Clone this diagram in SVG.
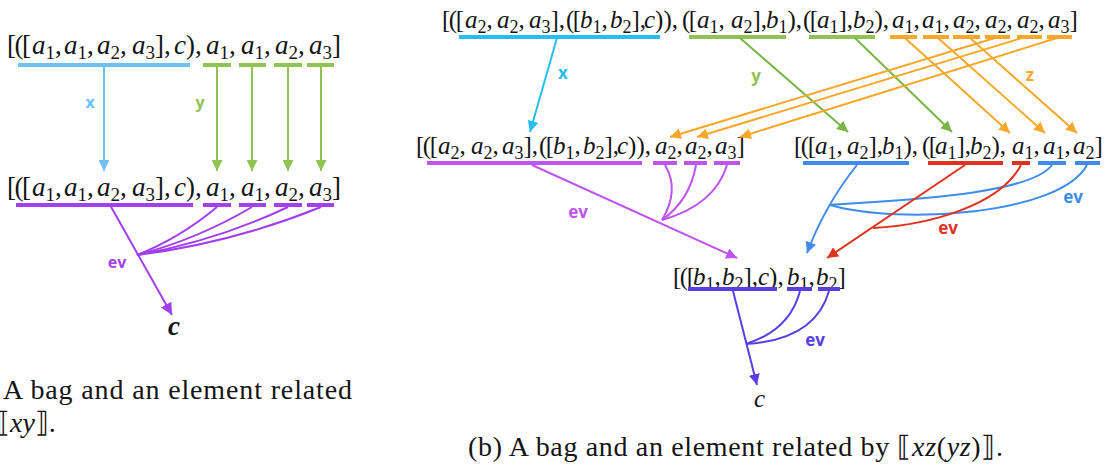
<svg xmlns="http://www.w3.org/2000/svg" width="1108" height="470" viewBox="0 0 1108 470">
<style>
.m{font-family:"Liberation Serif","DejaVu Serif",serif;font-size:27px;fill:#141414}
.m2{font-family:"Liberation Serif","DejaVu Serif",serif;font-size:25px;fill:#141414}
.i{font-style:italic}
.s{font-size:19px;baseline-shift:-5px;font-style:normal}
.s2{font-size:18px;baseline-shift:-5px;font-style:normal}
.br{letter-spacing:-1.5px}
.cap{font-family:"Liberation Serif","DejaVu Serif",serif;font-size:28px;fill:#141414}
.lb{font-family:"Open Sans","Liberation Sans",sans-serif;font-weight:bold;text-anchor:middle}
.u{stroke-width:4;fill:none}
.c{stroke-width:2;fill:none}
</style>
<defs>
<marker id="aLB" viewBox="0 0 10 10" refX="10" refY="5" markerWidth="11" markerHeight="11" markerUnits="userSpaceOnUse" orient="auto"><path d="M0,0 L10,5 L0,10 z" fill="#6EC0F5"/></marker>
<marker id="aG" viewBox="0 0 10 10" refX="10" refY="5" markerWidth="11" markerHeight="11" markerUnits="userSpaceOnUse" orient="auto"><path d="M0,0 L10,5 L0,10 z" fill="#8FC455"/></marker>
<marker id="aG2" viewBox="0 0 10 10" refX="10" refY="5" markerWidth="11" markerHeight="11" markerUnits="userSpaceOnUse" orient="auto"><path d="M0,0 L10,5 L0,10 z" fill="#79B648"/></marker>
<marker id="aP" viewBox="0 0 10 10" refX="10" refY="5" markerWidth="12" markerHeight="12" markerUnits="userSpaceOnUse" orient="auto"><path d="M0,0 L10,5 L0,10 z" fill="#A23FF0"/></marker>
<marker id="aC" viewBox="0 0 10 10" refX="10" refY="5" markerWidth="11" markerHeight="11" markerUnits="userSpaceOnUse" orient="auto"><path d="M0,0 L10,5 L0,10 z" fill="#26BDF0"/></marker>
<marker id="aO" viewBox="0 0 10 10" refX="10" refY="5" markerWidth="11" markerHeight="11" markerUnits="userSpaceOnUse" orient="auto"><path d="M0,0 L10,5 L0,10 z" fill="#F9A72B"/></marker>
<marker id="aPu" viewBox="0 0 10 10" refX="10" refY="5" markerWidth="11" markerHeight="11" markerUnits="userSpaceOnUse" orient="auto"><path d="M0,0 L10,5 L0,10 z" fill="#BE55EE"/></marker>
<marker id="aB" viewBox="0 0 10 10" refX="10" refY="5" markerWidth="11" markerHeight="11" markerUnits="userSpaceOnUse" orient="auto"><path d="M0,0 L10,5 L0,10 z" fill="#3F8CEE"/></marker>
<marker id="aR" viewBox="0 0 10 10" refX="10" refY="5" markerWidth="11" markerHeight="11" markerUnits="userSpaceOnUse" orient="auto"><path d="M0,0 L10,5 L0,10 z" fill="#E2321F"/></marker>
<marker id="aI" viewBox="0 0 10 10" refX="10" refY="5" markerWidth="11" markerHeight="11" markerUnits="userSpaceOnUse" orient="auto"><path d="M0,0 L10,5 L0,10 z" fill="#5B3DE6"/></marker>
</defs>
<rect width="1108" height="470" fill="#ffffff"/>

<!-- LEFT PANEL -->
<g id="left-top">
<text class="m" y="54"><tspan x="7" class="br">[([</tspan><tspan x="32" class="i">a</tspan><tspan class="s">1</tspan>,<tspan x="64" class="i">a</tspan><tspan class="s">1</tspan>,<tspan x="97" class="i">a</tspan><tspan class="s">2</tspan>,<tspan x="132" class="i">a</tspan><tspan class="s">3</tspan>],<tspan x="174" class="i">c</tspan>),<tspan x="206" class="i">a</tspan><tspan class="s">1</tspan>,<tspan x="241" class="i">a</tspan><tspan class="s">1</tspan>,<tspan x="275" class="i">a</tspan><tspan class="s">2</tspan>,<tspan x="309" class="i">a</tspan><tspan class="s">3</tspan>]</text>
<g class="u">
<path d="M18,65 H190" stroke="#6EC0F5"/>
<path d="M203,65 H231 M239,65 H266 M274,65 H302 M307,65 H334" stroke="#8FC455"/>
</g>
</g>

<g id="left-mid">
<text class="m" y="196"><tspan x="7" class="br">[([</tspan><tspan x="32" class="i">a</tspan><tspan class="s">1</tspan>,<tspan x="64" class="i">a</tspan><tspan class="s">1</tspan>,<tspan x="97" class="i">a</tspan><tspan class="s">2</tspan>,<tspan x="132" class="i">a</tspan><tspan class="s">3</tspan>],<tspan x="174" class="i">c</tspan>),<tspan x="206" class="i">a</tspan><tspan class="s">1</tspan>,<tspan x="241" class="i">a</tspan><tspan class="s">1</tspan>,<tspan x="275" class="i">a</tspan><tspan class="s">2</tspan>,<tspan x="309" class="i">a</tspan><tspan class="s">3</tspan>]</text>
<path class="u" d="M16,205 H193 M203,205 H231 M239,205 H266 M274,205 H302 M307,205 H334" stroke="#A23FF0"/>
</g>

<g id="left-c">
<text class="m i" x="168" y="335" font-weight="bold">c</text>
</g>

<g id="left-connectors" class="c">
<path d="M104,65 V171" stroke="#6EC0F5" marker-end="url(#aLB)"/>
<path d="M217,65 V171" stroke="#8FC455" marker-end="url(#aG)"/>
<path d="M252,65 V171" stroke="#8FC455" marker-end="url(#aG)"/>
<path d="M288,65 V171" stroke="#8FC455" marker-end="url(#aG)"/>
<path d="M321,65 V171" stroke="#8FC455" marker-end="url(#aG)"/>
<path d="M110,205 L172,315" stroke="#A23FF0" marker-end="url(#aP)"/>
<path d="M217,207 Q180,238 137,255" stroke="#A23FF0"/>
<path d="M252,207 Q198,239 137,255" stroke="#A23FF0"/>
<path d="M288,207 Q216,241 137,255" stroke="#A23FF0"/>
<path d="M321,207 Q232,243 137,255" stroke="#A23FF0"/>
</g>
<g id="left-labels">
<text class="lb" x="90" y="108" font-size="16" fill="#6EC0F5">x</text>
<text class="lb" x="200" y="108" font-size="16" fill="#8FC455">y</text>
<text class="lb" x="117" y="268" font-size="16" fill="#A23FF0">ev</text>
</g>

<g id="left-caption">
<text class="cap" x="3" y="399" textLength="349" lengthAdjust="spacing">A bag and an element related</text>
<text class="cap" x="-4" y="432">⟦<tspan class="i">xy</tspan>⟧.</text>
</g>

<!-- RIGHT PANEL -->
<g id="right-top">
<text class="m2" y="28"><tspan x="442" class="br">[([</tspan><tspan x="465" class="i">a</tspan><tspan class="s2">2</tspan>,<tspan x="497" class="i">a</tspan><tspan class="s2">2</tspan>,<tspan x="529" class="i">a</tspan><tspan class="s2">3</tspan>],<tspan x="566" class="br">([</tspan><tspan x="580" class="i">b</tspan><tspan class="s2">1</tspan>,<tspan x="610" class="i">b</tspan><tspan class="s2">2</tspan>],<tspan x="644" class="i">c</tspan>)),<tspan x="682" class="br">([</tspan><tspan x="697" class="i">a</tspan><tspan class="s2">1</tspan>,<tspan x="731" class="i">a</tspan><tspan class="s2">2</tspan>],<tspan x="766" class="i">b</tspan><tspan class="s2">1</tspan>),<tspan x="803" class="br">([</tspan><tspan x="817" class="i">a</tspan><tspan class="s2">1</tspan>],<tspan x="853" class="i">b</tspan><tspan class="s2">2</tspan>),<tspan x="892" class="i">a</tspan><tspan class="s2">1</tspan>,<tspan x="922" class="i">a</tspan><tspan class="s2">1</tspan>,<tspan x="953" class="i">a</tspan><tspan class="s2">2</tspan>,<tspan x="985" class="i">a</tspan><tspan class="s2">2</tspan>,<tspan x="1017" class="i">a</tspan><tspan class="s2">2</tspan>,<tspan x="1048" class="i">a</tspan><tspan class="s2">3</tspan>]</text>
<g class="u">
<path d="M459,37 H660" stroke="#26BDF0"/>
<path d="M689,37 H786 M809,37 H875" stroke="#8FC455"/>
<path d="M890,37 H917 M923,37 H949 M953,37 H980 M985,37 H1010 M1017,37 H1042 M1047,37 H1072" stroke="#F9A72B"/>
</g>
</g>

<g id="right-mid-left">
<text class="m2" y="154"><tspan x="416" class="br">[([</tspan><tspan x="438" class="i">a</tspan><tspan class="s2">2</tspan>,<tspan x="471" class="i">a</tspan><tspan class="s2">2</tspan>,<tspan x="502" class="i">a</tspan><tspan class="s2">3</tspan>],<tspan x="539" class="br">([</tspan><tspan x="553" class="i">b</tspan><tspan class="s2">1</tspan>,<tspan x="583" class="i">b</tspan><tspan class="s2">2</tspan>],<tspan x="617" class="i">c</tspan>)),<tspan x="655" class="i">a</tspan><tspan class="s2">2</tspan>,<tspan x="685" class="i">a</tspan><tspan class="s2">2</tspan>,<tspan x="715" class="i">a</tspan><tspan class="s2">3</tspan>]</text>
<path class="u" d="M427,163 H642 M653,163 H677 M684,163 H707 M714,163 H740" stroke="#BE55EE"/>
</g>

<g id="right-mid-right">
<text class="m2" y="154"><tspan x="794" class="br">[([</tspan><tspan x="815" class="i">a</tspan><tspan class="s2">1</tspan>,<tspan x="847" class="i">a</tspan><tspan class="s2">2</tspan>],<tspan x="882" class="i">b</tspan><tspan class="s2">1</tspan>),<tspan x="922" class="br">([</tspan><tspan x="935" class="i">a</tspan><tspan class="s2">1</tspan>],<tspan x="970" class="i">b</tspan><tspan class="s2">2</tspan>),<tspan x="1012" class="i">a</tspan><tspan class="s2">1</tspan>,<tspan x="1043" class="i">a</tspan><tspan class="s2">1</tspan>,<tspan x="1073" class="i">a</tspan><tspan class="s2">2</tspan>]</text>
<g class="u">
<path d="M803,163 H909 M1038,163 H1066 M1075,163 H1100" stroke="#3F8CEE"/>
<path d="M928,163 H1003 M1012,163 H1030" stroke="#E2321F"/>
</g>
</g>

<g id="right-bottom">
<text class="m2" y="285"><tspan x="673" class="br">[([</tspan><tspan x="693" class="i">b</tspan><tspan class="s2">1</tspan>,<tspan x="722" class="i">b</tspan><tspan class="s2">2</tspan>],<tspan x="758" class="i">c</tspan>),<tspan x="787" class="i">b</tspan><tspan class="s2">1</tspan>,<tspan x="816" class="i">b</tspan><tspan class="s2">2</tspan>]</text>
<path class="u" d="M688,289 H777 M787,289 H812 M818,289 H840" stroke="#5B3DE6"/>
</g>

<g id="right-c">
<text class="m2 i" x="754" y="407">c</text>
</g>

<g id="right-connectors" class="c">
<path d="M557,38 L530,132" stroke="#26BDF0" marker-end="url(#aC)"/>
<path d="M740,38 L848,132" stroke="#79B648" marker-end="url(#aG2)"/>
<path d="M855,38 L952,132" stroke="#79B648" marker-end="url(#aG2)"/>
<path d="M905,38 L1010,133" stroke="#F9A72B" marker-end="url(#aO)"/>
<path d="M938,38 L1045,133" stroke="#F9A72B" marker-end="url(#aO)"/>
<path d="M970,38 L1077,133" stroke="#F9A72B" marker-end="url(#aO)"/>
<path d="M995,38 L670,137" stroke="#F9A72B" marker-end="url(#aO)"/>
<path d="M1022,38 L697,137" stroke="#F9A72B" marker-end="url(#aO)"/>
<path d="M1057,38 L740,137" stroke="#F9A72B" marker-end="url(#aO)"/>
<path d="M532,165 L737,258" stroke="#BE55EE" marker-end="url(#aPu)"/>
<path d="M665,165 Q680,190 662,220" stroke="#BE55EE"/>
<path d="M696,165 Q690,200 662,220" stroke="#BE55EE"/>
<path d="M727,165 Q715,205 662,220" stroke="#BE55EE"/>
<path d="M857,165 Q825,205 807,253" stroke="#3F8CEE" marker-end="url(#aB)"/>
<path d="M1052,165 C1030,195 900,200 830,205" stroke="#3F8CEE"/>
<path d="M1087,165 C1060,215 900,225 830,205" stroke="#3F8CEE"/>
<path d="M965,165 L827,258" stroke="#E2321F" marker-end="url(#aR)"/>
<path d="M1021,165 C1000,205 930,225 873,228" stroke="#E2321F"/>
<path d="M733,291 L757,385" stroke="#5B3DE6" marker-end="url(#aI)"/>
<path d="M800,291 Q790,330 746,344" stroke="#5B3DE6"/>
<path d="M829,291 Q815,340 746,344" stroke="#5B3DE6"/>
</g>
<g id="right-labels">
<text class="lb" x="563" y="79" font-size="17" fill="#26BDF0">x</text>
<text class="lb" x="756" y="82" font-size="17" fill="#8FC455">y</text>
<text class="lb" x="1030" y="81" font-size="17" fill="#F9A72B">z</text>
<text class="lb" x="578" y="218" font-size="17" fill="#BE55EE">ev</text>
<text class="lb" x="1073" y="203" font-size="17" fill="#3F8CEE">ev</text>
<text class="lb" x="948" y="234" font-size="17" fill="#E2321F">ev</text>
<text class="lb" x="815" y="346" font-size="17" fill="#5B3DE6">ev</text>
</g>

<g id="right-caption">
<text class="cap" x="468" y="456" textLength="535" lengthAdjust="spacing">(b) A bag and an element related by ⟦<tspan class="i">xz</tspan>(<tspan class="i">yz</tspan>)⟧.</text>
</g>
</svg>
